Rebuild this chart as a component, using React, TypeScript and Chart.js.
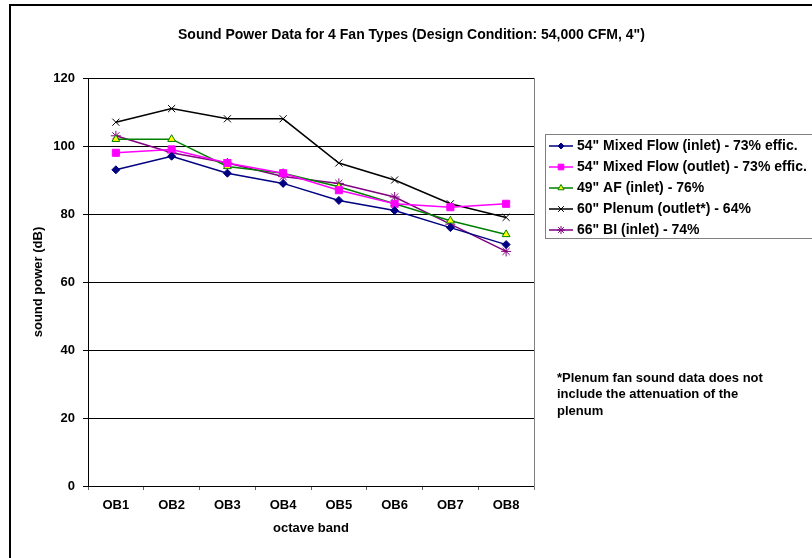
import React, { useEffect, useRef } from "react";
import { Chart, registerables } from "chart.js";

Chart.register(...registerables);

const categories = ["OB1", "OB2", "OB3", "OB4", "OB5", "OB6", "OB7", "OB8"];
const mixedFlowInlet = [93, 97, 92, 89, 84, 81, 76, 71];
const mixedFlowOutlet = [98, 99, 95, 92, 87, 83, 82, 83];
const af49Inlet = [102, 102, 94, 92, 88, 83, 78, 74];
const plenum60Outlet = [107, 111, 108, 108, 95, 90, 83, 79];
const bi66Inlet = [103, 98, 95, 91, 89, 85, 77, 69];

const seriesLabels = [
  '54" Mixed Flow (inlet) - 73% effic.',
  '54" Mixed Flow (outlet) - 73% effic.',
  '49" AF (inlet) - 76%',
  '60" Plenum (outlet*) - 64%',
  '66" BI (inlet) - 74%',
];
const titleText = 'Sound Power Data for 4 Fan Types (Design Condition: 54,000 CFM, 4")';
const yTitle = "sound power (dB)";
const xTitle = "octave band";
const noteLines = [
  "*Plenum fan sound data does not",
  "include the attenuation of the",
  "plenum",
];
const yMin = 0;
const yMax = 120;
const yStep = 20;

const FONT = '"Liberation Sans", Arial, sans-serif';

type Style = {
  color: string;
  fill: string;
  pointStyle: any;
  radius: number;
};
const styles: Style[] = [
  { color: "#000080", fill: "#000080", pointStyle: "rectRot", radius: 4 },
  { color: "#FF00FF", fill: "#FF00FF", pointStyle: "rect", radius: 5 },
  { color: "#008000", fill: "#FFFF00", pointStyle: "triangle", radius: 4.5 },
  { color: "#000000", fill: "#000000", pointStyle: "crossRot", radius: 5 },
  { color: "#800080", fill: "#800080", pointStyle: "star", radius: 5 },
];

function drawMarker(ctx: CanvasRenderingContext2D, style: string, x: number, y: number, r: number, stroke: string, fill: string) {
  ctx.save();
  ctx.strokeStyle = stroke;
  ctx.fillStyle = fill;
  ctx.lineWidth = 1;
  ctx.beginPath();
  if (style === "rectRot") {
    ctx.moveTo(x, y - r);
    ctx.lineTo(x + r, y);
    ctx.lineTo(x, y + r);
    ctx.lineTo(x - r, y);
    ctx.closePath();
    ctx.fill();
    ctx.stroke();
  } else if (style === "rect") {
    const s = Math.SQRT1_2 * r;
    ctx.rect(x - s, y - s, 2 * s, 2 * s);
    ctx.fill();
    ctx.stroke();
  } else if (style === "triangle") {
    ctx.moveTo(x, y - r);
    ctx.lineTo(x + r * 0.866, y + r * 0.5);
    ctx.lineTo(x - r * 0.866, y + r * 0.5);
    ctx.closePath();
    ctx.fill();
    ctx.stroke();
  } else if (style === "crossRot") {
    const o = Math.SQRT1_2 * r;
    ctx.moveTo(x - o, y - o);
    ctx.lineTo(x + o, y + o);
    ctx.moveTo(x - o, y + o);
    ctx.lineTo(x + o, y - o);
    ctx.stroke();
  } else if (style === "star") {
    const o = Math.SQRT1_2 * r;
    ctx.moveTo(x - o, y - o);
    ctx.lineTo(x + o, y + o);
    ctx.moveTo(x - o, y + o);
    ctx.lineTo(x + o, y - o);
    ctx.moveTo(x, y - r);
    ctx.lineTo(x, y + r);
    ctx.moveTo(x - r, y);
    ctx.lineTo(x + r, y);
    ctx.stroke();
  }
  ctx.restore();
}

const decorPlugin = {
  id: "decor",
  beforeDraw(chart: any) {
    const ctx = chart.ctx as CanvasRenderingContext2D;
    ctx.save();
    ctx.fillStyle = "#ffffff";
    ctx.fillRect(0, 0, chart.width, chart.height);
    ctx.fillStyle = "#000000";
    ctx.fillRect(9, 4, chart.width, 2);
    ctx.fillRect(9, 4, 2, chart.height);
    ctx.restore();
  },
  beforeDatasetsDraw(chart: any) {
    const ctx = chart.ctx as CanvasRenderingContext2D;
    const a = chart.chartArea;
    ctx.save();
    ctx.strokeStyle = "#808080";
    ctx.lineWidth = 1;
    ctx.beginPath();
    ctx.moveTo(Math.round(a.right) + 0.5, a.top);
    ctx.lineTo(Math.round(a.right) + 0.5, a.bottom + 4);
    ctx.stroke();
    ctx.restore();
  },
  afterDraw(chart: any) {
    const ctx = chart.ctx as CanvasRenderingContext2D;
    const a = chart.chartArea;
    ctx.save();
    ctx.fillStyle = "#000000";
    // title
    ctx.font = `bold 14px ${FONT}`;
    ctx.textAlign = "left";
    ctx.textBaseline = "middle";
    ctx.fillText(titleText, 178, 35);
    // axis titles
    ctx.textAlign = "center";
    ctx.font = `bold 13px ${FONT}`;
    ctx.fillText(xTitle, (a.left + a.right) / 2, 528);
    ctx.save();
    ctx.translate(38, (a.top + a.bottom) / 2);
    ctx.rotate(-Math.PI / 2);
    ctx.fillText(yTitle, 0, 0);
    ctx.restore();
    // legend
    ctx.strokeStyle = "#808080";
    ctx.lineWidth = 1;
    ctx.strokeRect(545.5, 134.5, 280, 104);
    ctx.font = `bold 14px ${FONT}`;
    ctx.textAlign = "left";
    ctx.textBaseline = "middle";
    seriesLabels.forEach((lab, i) => {
      const y = 146 + i * 21;
      const s = styles[i];
      ctx.strokeStyle = s.color;
      ctx.lineWidth = 1.5;
      ctx.beginPath();
      ctx.moveTo(549, y);
      ctx.lineTo(573, y);
      ctx.stroke();
      drawMarker(ctx, s.pointStyle, 561, y, s.radius - 1, s.color, s.fill);
      ctx.fillStyle = "#000000";
      ctx.fillText(lab, 577, y + 0.5);
    });
    // note
    ctx.font = `bold 13px ${FONT}`;
    noteLines.forEach((l, i) => {
      ctx.fillText(l, 557, 378 + i * 16.5);
    });
    ctx.restore();
  },
};

export default function App() {
  const ref = useRef<HTMLCanvasElement | null>(null);
  useEffect(() => {
    if (!ref.current) return;
    const seriesData = [mixedFlowInlet, mixedFlowOutlet, af49Inlet, plenum60Outlet, bi66Inlet];
    const chart = new Chart(ref.current, {
      type: "line",
      data: {
        labels: categories,
        datasets: seriesData.map((d, i) => ({
          label: seriesLabels[i],
          data: d,
          borderColor: styles[i].color,
          backgroundColor: styles[i].fill,
          pointBorderColor: styles[i].color,
          pointBackgroundColor: styles[i].fill,
          pointStyle: styles[i].pointStyle,
          pointRadius: styles[i].radius,
          pointBorderWidth: 1,
          borderWidth: 1.5,
          tension: 0,
          fill: false,
        })),
      },
      options: {
        responsive: false,
        animation: false,
        devicePixelRatio: 1,
        layout: { padding: { top: 78, right: 278, left: 0, bottom: 0 } },
        plugins: {
          legend: { display: false },
          title: { display: false },
          tooltip: { enabled: false },
        },
        scales: {
          x: {
            type: "category",
            offset: true,
            grid: {
              display: true,
              drawOnChartArea: false,
              drawTicks: true,
              tickLength: 4,
              color: "#606060",
              offset: true,
            },
            border: { display: true, color: "#000000", width: 1 },
            ticks: {
              color: "#000000",
              font: { family: FONT, size: 13, weight: "bold" },
              padding: 8,
              maxRotation: 0,
              autoSkip: false,
            },
            afterFit: (s: any) => {
              s.height = 72;
            },
          },
          y: {
            min: yMin,
            max: yMax,
            grid: {
              display: true,
              color: "#000000",
              lineWidth: 1,
              tickLength: 5,
              drawTicks: true,
            },
            border: { display: true, color: "#000000", width: 1 },
            ticks: {
              stepSize: yStep,
              color: "#000000",
              font: { family: FONT, size: 13, weight: "bold" },
              padding: 8,
            },
            afterFit: (s: any) => {
              s.width = 88;
            },
          },
        },
      } as any,
      plugins: [decorPlugin],
    });
    return () => chart.destroy();
  }, []);
  return (
    <div style={{ position: "absolute", left: 0, top: 0, width: 812, height: 558, background: "#fff" }}>
      <canvas ref={ref} width={812} height={558} style={{ width: 812, height: 558, display: "block" }} />
    </div>
  );
}
